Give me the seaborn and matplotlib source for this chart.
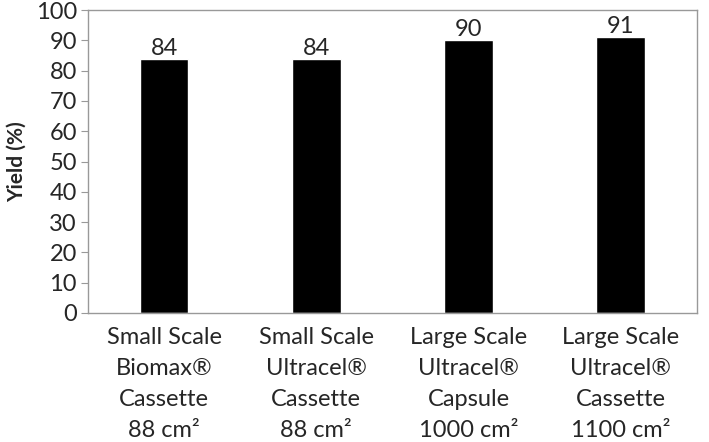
import seaborn as sns
import matplotlib.pyplot as plt
import pandas as pd

categories = [
	"Small Scale\nBiomax\u00ae\nCassette\n88 cm\u00b2",
	"Small Scale\nUltracel\u00ae\nCassette\n88 cm\u00b2",
	"Large Scale\nUltracel\u00ae\nCapsule\n1000 cm\u00b2",
	"Large Scale\nUltracel\u00ae\nCassette\n1100 cm\u00b2",
]
yields = [84, 84, 90, 91]
y_ticks = list(range(0, 101, 10))

df = pd.DataFrame({"cat": categories, "yield": yields})

sns.set_style("white")
plt.rcParams['font.family'] = ['Lato', 'DejaVu Sans']

fig, ax = plt.subplots(figsize=(7.09, 4.42), dpi=100)
plot = sns.barplot(x="cat", y="yield", data=df, color="black", saturation=1,
	width=0.32, ax=ax)
for c in ax.containers:
	ax.bar_label(c, labels=[str(v) for v in yields], fontsize=17, padding=0)

ax.set_ylim(0, 100)
ax.set_yticks(y_ticks)
ax.set_xlim(-0.5, 3.5)
ax.set_xlabel("")
ax.set_ylabel("Yield (%)", fontsize=15, fontweight="bold", labelpad=6)
ax.tick_params(axis="y", labelsize=17, length=5, color="#999999", direction="out", left=True, pad=3)
ax.tick_params(axis="x", labelsize=17, length=0, pad=10)
for lbl in ax.get_xticklabels():
	lbl.set_linespacing(1.6)
for s in ax.spines.values():
	s.set_color("#999999")
	s.set_linewidth(1)

fig.subplots_adjust(left=0.124, right=0.983, top=0.977, bottom=0.292)
fig.savefig("out.png")
plt.close('all')
